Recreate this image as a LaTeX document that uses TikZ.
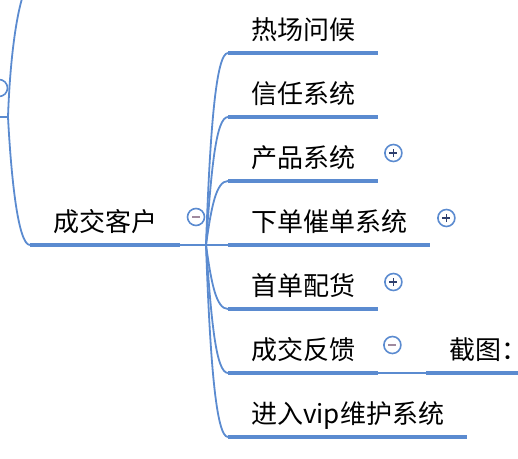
\documentclass[tikz,border=0pt]{standalone}
\usepackage{fontspec}
\newfontfamily\cjk{Noto Sans CJK SC}
\usetikzlibrary{positioning,calc}
\definecolor{mapblue}{HTML}{5B8BD0}
\definecolor{signnavy}{HTML}{2E3F6E}
\definecolor{signmauve}{HTML}{A08A9E}
\tikzset{
  topic/.style={anchor=south west,font=\cjk\fontsize{26}{30}\selectfont,
    inner xsep=23pt,inner ysep=8pt,text height=20pt,text depth=5pt},
  uline/.style={draw=mapblue,line width=4pt},
  conn/.style={draw=mapblue,line width=1.8pt},
  fold/.style={circle,draw=mapblue,line width=1.6pt,minimum size=17pt,inner sep=0pt,fill=white},
  plus/.style={fold,path picture={
    \draw[signnavy,line width=1.6pt] ($(path picture bounding box.center)+(-4,0)$) -- ++(8,0);
    \draw[signnavy,line width=1.6pt] ($(path picture bounding box.center)+(0,-4)$) -- ++(0,8);}},
  minus/.style={fold,path picture={
    \draw[signmauve,line width=1.6pt] ($(path picture bounding box.center)+(-4,0)$) -- ++(8,0);}}
}

\begin{document}
\begin{tikzpicture}[x=1pt,y=1pt]
    \useasboundingbox (0,0) rectangle (518,458);
    \clip (0,0) rectangle (518,458);
    % parent branch on the left
    \coordinate (lefthub) at (8,341);
    \coordinate (upper) at (36,482);
    \draw[conn] (0,341) -- (lefthub);
    \draw[conn] (lefthub) to[out=88,in=180,out distance=80pt,in distance=14pt] (upper);
    \draw[draw=mapblue,line width=1.6pt] (-1,370) circle (8.5);
    % centre topic
    \node[topic] (deal) at (30,213) {成交客户};
    \draw[conn] (lefthub) to[out=-87,in=180,out distance=60pt,in distance=12pt] (deal.south west);
    \draw[uline] (deal.south west) -- (deal.south east);
    \node[minus] (dealfold) at (196,241) {};
    \coordinate (hub) at (206,213);
    \draw[conn] (deal.south east) -- (hub);
    % sub topics
    \node[topic] (greet) at (228,405) {热场问候};
    \node[topic] (trust) at (228,341) {信任系统};
    \node[topic] (product) at (228,277) {产品系统};
    \node[topic] (order) at (228,213) {下单催单系统};
    \node[topic] (first) at (228,149) {首单配货};
    \node[topic] (feedback) at (228,85) {成交反馈};
    \node[topic] (vip) at (228,21) {进入vip维护系统};
    \node[topic] (shot) at (426,85) {截图：};
    \draw[conn] (hub) to[out=88,in=180,out distance=115pt,in distance=12pt] (greet.south west);
    \draw[conn] (hub) to[out=86,in=180,out distance=77pt,in distance=12pt] (trust.south west);
    \draw[conn] (hub) to[out=82,in=180,out distance=38pt,in distance=12pt] (product.south west);
    \draw[conn] (hub) -- (order.south west);
    \draw[conn] (hub) to[out=-82,in=180,out distance=38pt,in distance=12pt] (first.south west);
    \draw[conn] (hub) to[out=-86,in=180,out distance=77pt,in distance=12pt] (feedback.south west);
    \draw[conn] (hub) to[out=-88,in=180,out distance=115pt,in distance=12pt] (vip.south west);
    \draw[conn] (feedback.south east) -- (shot.south west);
    \foreach \t in {greet,trust,product,order,first,feedback,vip,shot}
      \draw[uline] (\t.south west) -- (\t.south east);
    % fold markers
    \node[plus] (productfold) at ($(product.south east)+(15,28)$) {};
    \node[plus] (orderfold) at ($(order.south east)+(16,27)$) {};
    \node[plus] (firstfold) at ($(first.south east)+(15,27)$) {};
    \node[minus] (feedbackfold) at ($(feedback.south east)+(14,28)$) {};
\end{tikzpicture}
\end{document}
